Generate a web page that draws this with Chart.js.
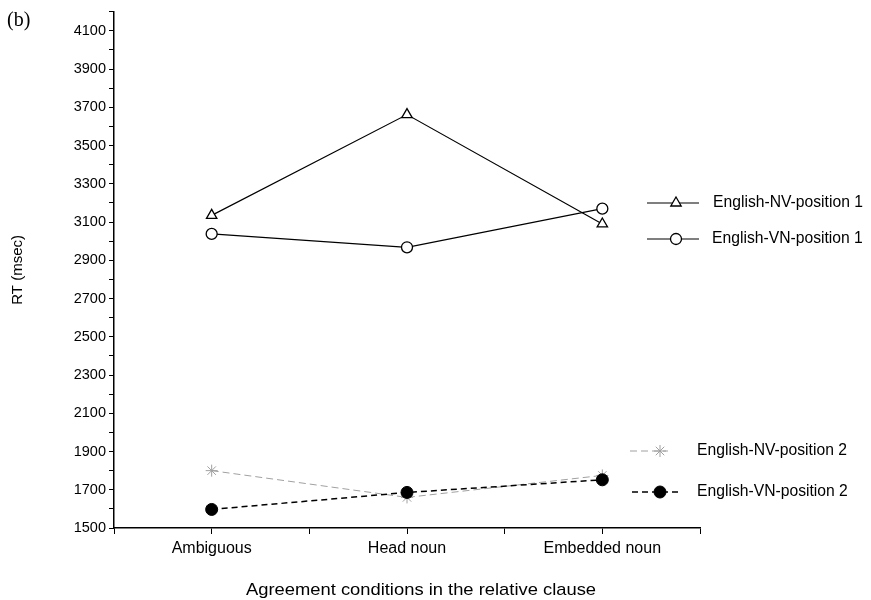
<!DOCTYPE html>
<html><head><meta charset="utf-8">
<script src="https://cdn.jsdelivr.net/npm/chart.js@4.4.0/dist/chart.umd.min.js"></script>
<style>html,body{margin:0;padding:0;background:#fff}#wrap{width:871px;height:600px}</style>
</head><body><div id="wrap"><canvas id="c" width="871" height="600"></canvas></div>
<script>
const categories = ['Ambiguous', 'Head noun', 'Embedded noun'];
const nvPos1 = [3135, 3662, 3090];
const vnPos1 = [3038, 2968, 3170];
const nvPos2 = [1800, 1660, 1775];
const vnPos2 = [1597, 1686, 1752];
const seriesNames = ['English-NV-position 1', 'English-VN-position 1', 'English-NV-position 2', 'English-VN-position 2'];
const yTickLabels = [1500, 1700, 1900, 2100, 2300, 2500, 2700, 2900, 3100, 3300, 3500, 3700, 3900, 4100];
const panelLabel = '(b)';
const xTitle = 'Agreement conditions in the relative clause';
const yTitle = 'RT (msec)';

const FONT = 'Liberation Sans, Arial, sans-serif';
const toPts = arr => arr.map((v, i) => ({x: i, y: v}));

const datasets = [
  {label: seriesNames[0], data: toPts(nvPos1), borderColor: '#000', borderWidth: 1.2,
   pointStyle: 'triangle', pointRadius: 6, pointBackgroundColor: '#fff', pointBorderColor: '#000', pointBorderWidth: 1.3, order: 1},
  {label: seriesNames[1], data: toPts(vnPos1), borderColor: '#000', borderWidth: 1.2,
   pointStyle: 'circle', pointRadius: 5.5, pointBackgroundColor: '#fff', pointBorderColor: '#000', pointBorderWidth: 1.3, order: 1},
  {label: seriesNames[2], data: toPts(nvPos2), borderColor: '#a0a0a0', borderWidth: 1, borderDash: [7, 4],
   pointStyle: 'star', pointRadius: 6, pointBackgroundColor: '#a0a0a0', pointBorderColor: '#a0a0a0', pointBorderWidth: 1, order: 2},
  {label: seriesNames[3], data: toPts(vnPos2), borderColor: '#000', borderWidth: 1.5, borderDash: [6, 4],
   pointStyle: 'circle', pointRadius: 6, pointBackgroundColor: '#000', pointBorderColor: '#000', pointBorderWidth: 1, order: 0}
];

const legendSpots = [
  {y: 203, x1: 647, x2: 699, mx: 676, tx: 713},
  {y: 239, x1: 647, x2: 699, mx: 676, tx: 712},
  {y: 451, x1: 630, x2: 668, mx: 660, tx: 697},
  {y: 492, x1: 632, x2: 682, mx: 660, tx: 697}
];

const extras = {
  id: 'extras',
  afterDraw(chart) {
    const ctx = chart.ctx;
    ctx.save();
    // panel label
    ctx.fillStyle = '#000';
    ctx.font = '20px "Liberation Serif", "Times New Roman", serif';
    ctx.textBaseline = 'middle';
    ctx.textAlign = 'left';
    ctx.fillText(panelLabel, 7, 21);
    // x title (slightly wide lettering as in the reference)
    ctx.save();
    ctx.font = '17px ' + FONT;
    ctx.textAlign = 'center';
    ctx.translate(421, 590);
    ctx.scale(1.08, 1);
    ctx.fillText(xTitle, 0, 0);
    ctx.restore();
    // legend
    chart.data.datasets.forEach((ds, i) => {
      const s = legendSpots[i];
      ctx.save();
      ctx.strokeStyle = ds.borderColor;
      ctx.lineWidth = ds.borderWidth;
      ctx.setLineDash(ds.borderDash || []);
      ctx.beginPath(); ctx.moveTo(s.x1, s.y); ctx.lineTo(s.x2, s.y); ctx.stroke();
      ctx.setLineDash([]);
      ctx.fillStyle = ds.pointBackgroundColor;
      ctx.strokeStyle = ds.pointBorderColor;
      ctx.lineWidth = ds.pointBorderWidth;
      Chart.helpers.drawPoint(ctx, {pointStyle: ds.pointStyle, radius: ds.pointRadius, rotation: 0, borderWidth: ds.pointBorderWidth}, s.mx, s.y);
      ctx.restore();
      ctx.fillStyle = '#000';
      ctx.font = '15.7px ' + FONT;
      ctx.textAlign = 'left';
      ctx.textBaseline = 'middle';
      ctx.fillText(ds.label, s.tx, s.y);
    });
    ctx.restore();
  }
};

new Chart(document.getElementById('c'), {
  type: 'line',
  data: {datasets},
  plugins: [extras],
  options: {
    responsive: false,
    animation: false,
    devicePixelRatio: 1,
    layout: {padding: {left: 0, right: 171, top: 10, bottom: 0}},
    plugins: {legend: {display: false}, tooltip: {enabled: false}},
    elements: {line: {tension: 0, fill: false}},
    scales: {
      x: {
        type: 'linear', min: -0.5, max: 2.5,
        afterFit: s => { s.height = 72; },
        border: {color: '#000', width: 1.5},
        grid: {drawOnChartArea: false, drawTicks: true, tickLength: 6, color: '#000'},
        ticks: {stepSize: 0.5, autoSkip: false, maxRotation: 0, padding: 5, color: '#000',
          font: {family: FONT, size: 16},
          callback: v => Number.isInteger(v) && v >= 0 && v < categories.length ? categories[v] : ''}
      },
      y: {
        min: 1500, max: 4200,
        afterFit: s => { s.width = 114; },
        border: {color: '#000', width: 1.5},
        grid: {drawOnChartArea: false, drawTicks: true, tickLength: 5, color: '#000'},
        ticks: {stepSize: 100, autoSkip: false, padding: 3, color: '#000',
          font: {family: FONT, size: 14.5},
          callback: v => yTickLabels.includes(v) ? String(v) : ''},
        title: {display: true, text: yTitle, color: '#000', font: {family: FONT, size: 15}, padding: {top: 9, bottom: 0}}
      }
    }
  }
});
</script>
</body></html>
